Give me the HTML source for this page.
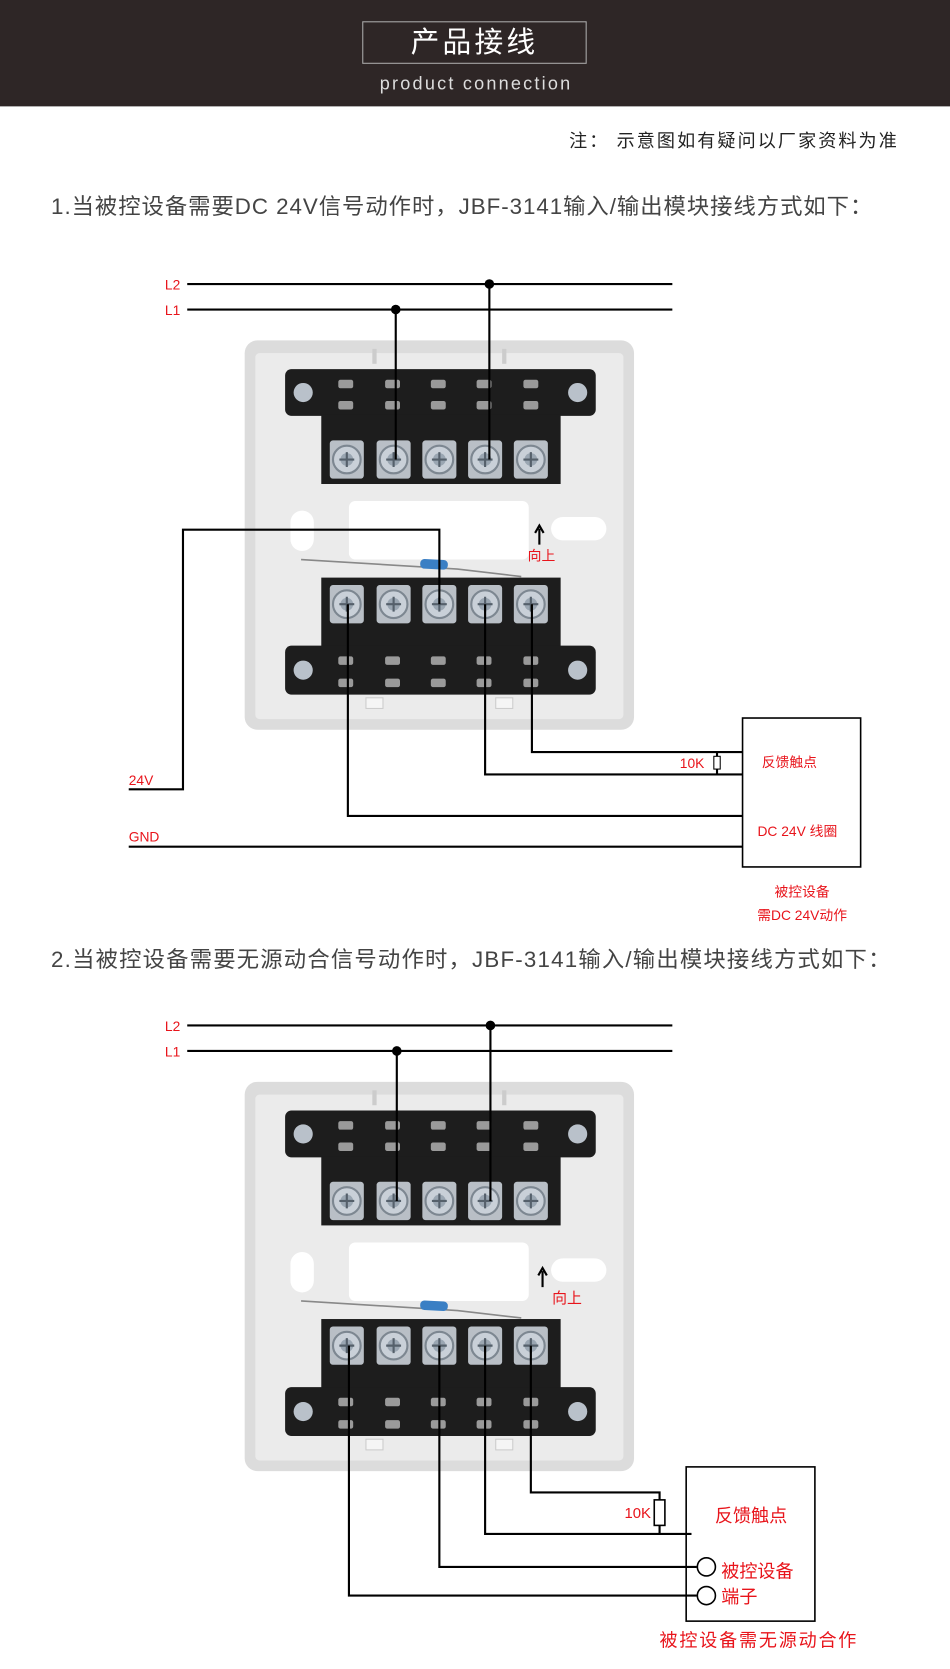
<!DOCTYPE html>
<html><head><meta charset="utf-8"><style>
html,body{margin:0;padding:0;background:#fff;}
svg{display:block;}
text{font-family:"Liberation Sans","Noto Sans CJK SC",sans-serif;}
</style></head><body>
<svg width="950" height="1669" viewBox="0 0 893 1569" preserveAspectRatio="none" xmlns="http://www.w3.org/2000/svg">
<defs>
<g id="screw">
  <rect x="-16" y="-18" width="32" height="36" rx="3" fill="#b9bfc6"/>
  <circle r="13" fill="#c9d0d8" stroke="#7d8791" stroke-width="2"/>
  <circle r="6" fill="#9aa6b2"/>
  <path d="M-7 0H7M0 -7V7" stroke="#55606b" stroke-width="2"/>
</g>
<g id="dev">
  <rect x="0" y="0" width="366" height="366" rx="12" fill="#dcdcdc"/>
  <rect x="10" y="12" width="346" height="344" rx="4" fill="#ebebeb"/>
  <rect x="120" y="8" width="4" height="14" fill="#ccc"/>
  <rect x="242" y="8" width="4" height="14" fill="#ccc"/>
  <rect x="38" y="27" width="292" height="44" rx="6" fill="#1d1d1d"/>
  <rect x="72" y="70" width="225" height="65" fill="#1d1d1d"/>
  <circle cx="55" cy="49" r="9" fill="#b9c1ca"/><circle cx="313" cy="49" r="9" fill="#b9c1ca"/>
  <g fill="#9a9a9a">
    <rect x="88" y="37" width="14" height="8" rx="2"/><rect x="88" y="57" width="14" height="8" rx="2"/>
    <rect x="132" y="37" width="14" height="8" rx="2"/><rect x="132" y="57" width="14" height="8" rx="2"/>
    <rect x="175" y="37" width="14" height="8" rx="2"/><rect x="175" y="57" width="14" height="8" rx="2"/>
    <rect x="218" y="37" width="14" height="8" rx="2"/><rect x="218" y="57" width="14" height="8" rx="2"/>
    <rect x="262" y="37" width="14" height="8" rx="2"/><rect x="262" y="57" width="14" height="8" rx="2"/>
  </g>
  <use href="#screw" x="96" y="112"/><use href="#screw" x="140" y="112"/><use href="#screw" x="183" y="112"/><use href="#screw" x="226" y="112"/><use href="#screw" x="269" y="112"/>
  <rect x="98" y="151" width="169" height="55" rx="6" fill="#fff"/>
  <rect x="43" y="160" width="22" height="38" rx="11" fill="#fff"/>
  <rect x="288" y="166" width="52" height="22" rx="11" fill="#fff"/>
  <path d="M53 206 L200 215 L260 222" stroke="#888" stroke-width="1.5" fill="none"/>
  <rect x="165" y="206" width="26" height="9" rx="4" fill="#3a7fc4" transform="rotate(3 178 210)"/>
  <rect x="72" y="223" width="225" height="65" fill="#1d1d1d"/>
  <rect x="38" y="287" width="292" height="46" rx="6" fill="#1d1d1d"/>
  <use href="#screw" x="96" y="248"/><use href="#screw" x="140" y="248"/><use href="#screw" x="183" y="248"/><use href="#screw" x="226" y="248"/><use href="#screw" x="269" y="248"/>
  <circle cx="55" cy="310" r="9" fill="#b9c1ca"/><circle cx="313" cy="310" r="9" fill="#b9c1ca"/>
  <g fill="#9a9a9a">
    <rect x="88" y="297" width="14" height="8" rx="2"/><rect x="88" y="318" width="14" height="8" rx="2"/>
    <rect x="132" y="297" width="14" height="8" rx="2"/><rect x="132" y="318" width="14" height="8" rx="2"/>
    <rect x="175" y="297" width="14" height="8" rx="2"/><rect x="175" y="318" width="14" height="8" rx="2"/>
    <rect x="218" y="297" width="14" height="8" rx="2"/><rect x="218" y="318" width="14" height="8" rx="2"/>
    <rect x="262" y="297" width="14" height="8" rx="2"/><rect x="262" y="318" width="14" height="8" rx="2"/>
  </g>
  <rect x="114" y="336" width="16" height="10" fill="#f5f5f5" stroke="#ccc"/>
  <rect x="236" y="336" width="16" height="10" fill="#f5f5f5" stroke="#ccc"/>
</g>
</defs>

<rect x="0" y="0" width="893" height="100" fill="#2e2626"/>
<rect x="341" y="20.5" width="210" height="39" fill="none" stroke="#aaa" stroke-width="1"/>
<text x="446" y="49" font-size="27" fill="#fff" text-anchor="middle" letter-spacing="3">产品接线</text>
<text x="357" y="84" font-size="17" fill="#ddd" textLength="179" lengthAdjust="spacing">product connection</text>

<text x="535" y="138" font-size="17" fill="#222" textLength="308" lengthAdjust="spacing">注：  示意图如有疑问以厂家资料为准</text>
<text x="48" y="201" font-size="21" fill="#444" textLength="772" lengthAdjust="spacing">1.当被控设备需要DC 24V信号动作时，JBF-3141输入/输出模块接线方式如下：</text>

<use href="#dev" x="230" y="320"/>
<g stroke="#000" stroke-width="2" fill="none">
  <path d="M176 267H632M176 291H632"/>
  <path d="M460 267V432M372 291V432"/>
  <path d="M121 742H172V498H413V568"/>
  <path d="M121 796H698"/>
  <path d="M327 568V767H698"/>
  <path d="M456 568V728H698"/>
  <path d="M500 568V707H698"/>
  <path d="M674 707V728"/>
  <rect x="698" y="675" width="111" height="140" stroke-width="1.5"/>
</g>
<rect x="671" y="711" width="6" height="12" fill="#fff" stroke="#000" stroke-width="1"/>
<circle cx="460" cy="267" r="4.5"/><circle cx="372" cy="291" r="4.5"/>
<path d="M507 512V497M503 501L507 494L511 501" stroke="#000" stroke-width="2" fill="none"/>
<g fill="#e8141b" font-size="13">
<text x="155" y="272">L2</text><text x="155" y="296">L1</text>
<text x="121" y="738">24V</text><text x="121" y="791">GND</text>
<text x="496" y="527">向上</text>
<text x="639" y="722">10K</text>
<text x="716" y="721">反馈触点</text>
<text x="712" y="786">DC 24V 线圈</text>
<text x="754" y="843" text-anchor="middle">被控设备</text>
<text x="754" y="865" text-anchor="middle">需DC 24V动作</text>
</g>

<text x="48" y="909" font-size="21" fill="#444" textLength="789" lengthAdjust="spacing">2.当被控设备需要无源动合信号动作时，JBF-3141输入/输出模块接线方式如下：</text>

<use href="#dev" x="230" y="1017"/>
<g stroke="#000" stroke-width="2" fill="none">
  <path d="M176 964H632M176 988H632"/>
  <path d="M461 964V1129M373 988V1129"/>
  <path d="M328 1265V1500H655"/>
  <path d="M413 1265V1473H655"/>
  <path d="M456 1265V1442H650"/>
  <path d="M499 1265V1403H620V1442"/>
  <rect x="645" y="1379" width="121" height="145" stroke-width="1.5"/>
</g>
<rect x="615" y="1410" width="10" height="24" fill="#fff" stroke="#000" stroke-width="1.5"/>
<circle cx="664" cy="1473" r="8.5" fill="#fff" stroke="#000" stroke-width="1.5"/>
<circle cx="664" cy="1500" r="8.5" fill="#fff" stroke="#000" stroke-width="1.5"/>
<circle cx="461" cy="964" r="4.5"/><circle cx="373" cy="988" r="4.5"/>
<path d="M510 1210V1195M506 1199L510 1192L514 1199" stroke="#000" stroke-width="2" fill="none"/>
<g fill="#e8141b">
<text x="155" y="969" font-size="13">L2</text><text x="155" y="993" font-size="13">L1</text>
<text x="519" y="1225" font-size="14">向上</text>
<text x="587" y="1427" font-size="14">10K</text>
<text x="672" y="1431" font-size="17">反馈触点</text>
<text x="678" y="1483" font-size="17">被控设备</text>
<text x="678" y="1507" font-size="17">端子</text>
<text x="620" y="1548" font-size="17" textLength="185" lengthAdjust="spacing">被控设备需无源动合作</text>
</g>
</svg>
</body></html>
